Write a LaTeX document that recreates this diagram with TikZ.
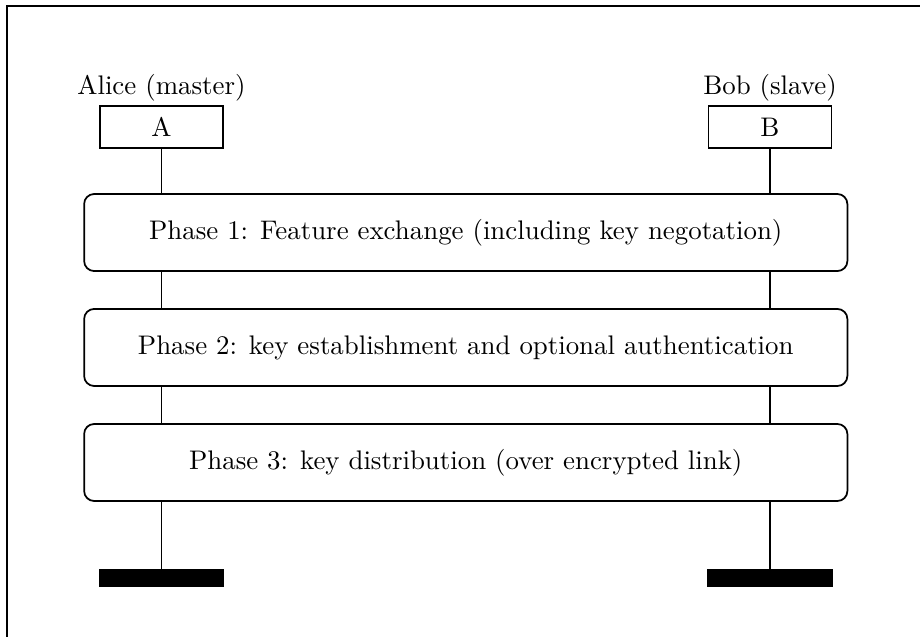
\documentclass[tikz,border=0pt]{standalone}
\usepackage{amsmath, amssymb}
\usepackage{xcolor}
\usepackage{tikz}

\begin{document}
\begin{tikzpicture}[
    font=\fontsize{10.75}{13}\selectfont,
    party/.style={draw, line width=0.7pt, minimum width=1.73cm, minimum height=0.59cm, inner sep=0pt},
    phase/.style={draw, line width=0.7pt, rounded corners=4pt, minimum width=10.73cm, minimum height=1.083cm},
    stopbar/.style={fill=black, minimum width=1.76cm, minimum height=0.253cm, inner sep=0pt},
    life/.style={line width=0.7pt}
  ]
      \useasboundingbox (0,0) rectangle (12.934,-8.955);
      \draw[line width=0.8pt] (0.098,-0.084) rectangle (13.4,-9.4);
      \node[party] (A) at (2.27,-1.785) {A};
      \node[party] (B) at (10.825,-1.785) {B};
        % Comments
      \node[anchor=south,inner sep=1.5pt] (Alice) at (A.north) {Alice (master)};
      \node[anchor=south,inner sep=1.5pt] (Bob) at (B.north) {Bob (slave)};
      \node[phase] (P1) at (6.548,-3.269) {Phase 1: Feature exchange (including key negotation)};
      \node[phase] (P2) at (6.548,-4.885) {Phase 2: key establishment and optional authentication};
      \node[phase] (P3) at (6.548,-6.502) {Phase 3: key distribution (over encrypted link)};
      \node[stopbar] (EA) at (2.27,-8.126) {};
      \node[stopbar] (EB) at (10.825,-8.126) {};
      \draw[life] (A) -- (A |- P1.north);
      \draw[life] (B) -- (B |- P1.north);
      \draw[life] (A |- P1.south) -- (A |- P2.north);
      \draw[life] (B |- P1.south) -- (B |- P2.north);
      \draw[life] (A |- P2.south) -- (A |- P3.north);
      \draw[life] (B |- P2.south) -- (B |- P3.north);
      \draw[life] (A |- P3.south) -- (EA);
      \draw[life] (B |- P3.south) -- (EB);
    \end{tikzpicture}
\end{document}
